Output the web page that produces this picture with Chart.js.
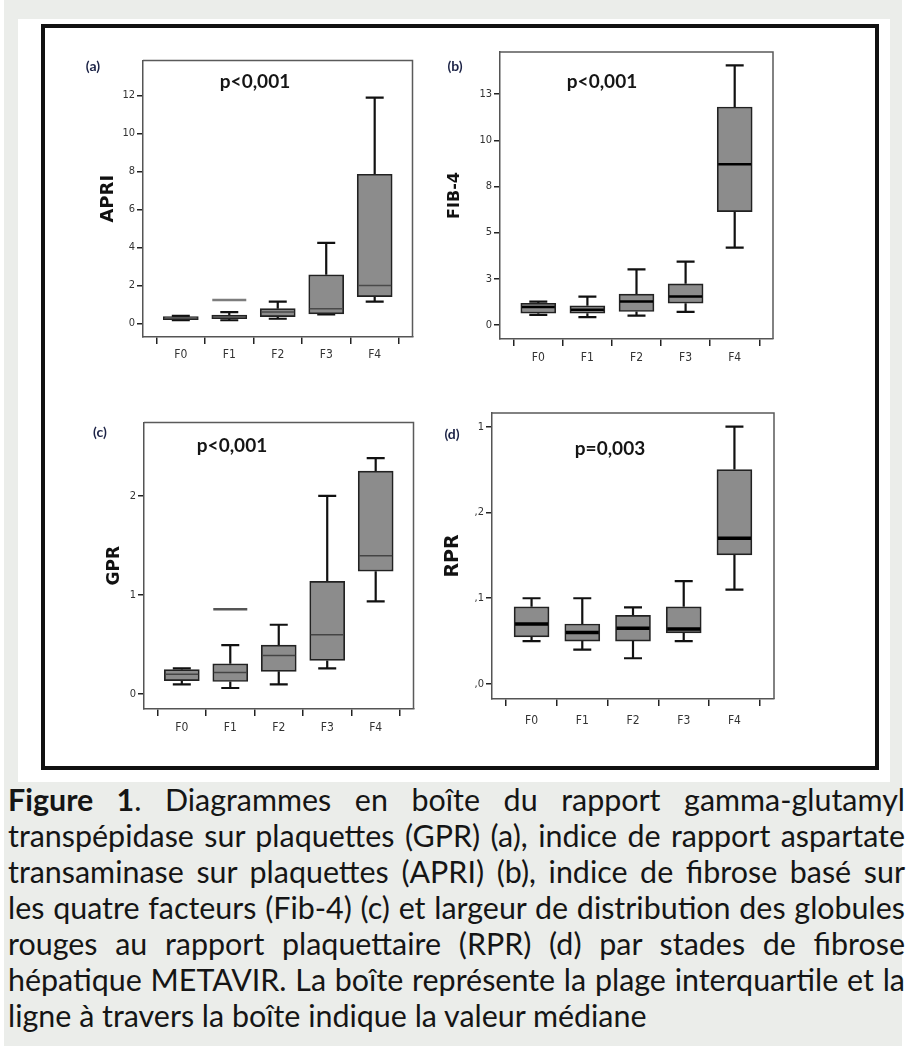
<!DOCTYPE html>
<html>
<head>
<meta charset="utf-8">
<script src="https://cdn.jsdelivr.net/npm/chart.js@4.4.1/dist/chart.umd.min.js"></script>
<style>
html,body{margin:0;padding:0;background:#fff;width:920px;height:1052px;overflow:hidden;position:relative;}
#bg{position:absolute;left:4px;top:0;width:898px;height:1046px;background:#ebedea;}
#white{position:absolute;left:18px;top:19px;width:872px;height:763px;background:#fff;}
#frame{position:absolute;left:41px;top:24px;width:830px;height:738px;border:4px solid #111;}
canvas{position:absolute;}
.lbl{position:absolute;transform:translate(-50%,-50%);font-family:Lato,"Open Sans",sans-serif;font-weight:bold;white-space:nowrap;}
.panel{font-size:14px;color:#1c2346;}
.pv{font-size:19px;color:#151515;}
#cap{position:absolute;left:8px;top:781px;width:897px;font-family:Lato,"Open Sans",sans-serif;color:#151515;}
#cap div{height:36px;line-height:36px;text-align:justify;text-align-last:justify;}
#cap div.last{text-align-last:left;}
</style>
</head>
<body>
<div id="bg"></div>
<div id="white"></div>
<div id="frame"></div>
<canvas id="cA"></canvas>
<canvas id="cB"></canvas>
<canvas id="cC"></canvas>
<canvas id="cD"></canvas>
<div class="lbl panel" style="left:93px;top:65px">(a)</div>
<div class="lbl panel" style="left:455px;top:65px">(b)</div>
<div class="lbl panel" style="left:100px;top:431px">(c)</div>
<div class="lbl panel" style="left:452px;top:433px">(d)</div>
<div class="lbl pv" style="left:255px;top:80px">p&lt;0,001</div>
<div class="lbl pv" style="left:602px;top:80px">p&lt;0,001</div>
<div class="lbl pv" style="left:232px;top:444px">p&lt;0,001</div>
<div class="lbl pv" style="left:610px;top:447px">p=0,003</div>
<div id="cap"></div>
<script>
// ---------------- DATA ----------------
const categories = ['F0', 'F1', 'F2', 'F3', 'F4'];

// (a) APRI
const apriMin = [0.17, 0.17, 0.25, 0.48, 1.15];
const apriQ1  = [0.20, 0.25, 0.36, 0.51, 1.41];
const apriMed = [0.27, 0.34, 0.60, 0.78, 2.00];
const apriQ3  = [0.36, 0.44, 0.78, 2.56, 7.85];
const apriMax = [0.40, 0.60, 1.15, 4.24, 11.88];
const apriOutliers = [{x: 1, y: 1.24}];
const apriTickLabels = ['0', '2', '4', '6', '8', '10', '12'];
const apriTickStep = 2;

// (b) FIB-4
const fibMin = [0.54, 0.42, 0.50, 0.70, 4.18];
const fibQ1  = [0.63, 0.63, 0.72, 1.17, 6.13];
const fibMed = [0.96, 0.81, 1.26, 1.53, 8.71];
const fibQ3  = [1.17, 1.03, 1.66, 2.22, 11.81];
const fibMax = [1.26, 1.53, 3.01, 3.43, 14.07];
const fibTickLabels = ['0', '3', '5', '8', '10', '13'];
const fibTickStep = 2.5;

// (c) GPR
const gprMin = [0.098, 0.062, 0.098, 0.26, 0.935];
const gprQ1  = [0.137, 0.127, 0.23, 0.34, 1.24];
const gprMed = [0.200, 0.218, 0.39, 0.60, 1.395];
const gprQ3  = [0.247, 0.306, 0.495, 1.137, 2.25];
const gprMax = [0.260, 0.495, 0.70, 2.00, 2.38];
const gprOutliers = [{x: 1, y: 0.855}];
const gprTickLabels = ['0', '1', '2'];
const gprTickStep = 1;

// (d) RPR
const rprMin = [0.050, 0.040, 0.030, 0.050, 0.110];
const rprQ1  = [0.055, 0.050, 0.050, 0.0595, 0.1505];
const rprMed = [0.070, 0.060, 0.065, 0.064, 0.170];
const rprQ3  = [0.090, 0.070, 0.080, 0.090, 0.250];
const rprMax = [0.100, 0.100, 0.0894, 0.120, 0.300];
const rprTickLabels = [',0', ',1', ',2', '1'];
const rprTickStep = 0.1;

const captionLines = [
  '<b>Figure 1</b>. Diagrammes en boîte du rapport gamma-glutamyl',
  'transpépidase sur plaquettes (GPR) (a), indice de rapport aspartate',
  'transaminase sur plaquettes (APRI) (b), indice de fibrose basé sur',
  'les quatre facteurs (Fib-4) (c) et largeur de distribution des globules',
  'rouges au rapport plaquettaire (RPR) (d) par stades de fibrose',
  'hépatique METAVIR. La boîte représente la plage interquartile et la',
  'ligne à travers la boîte indique la valeur médiane'
];

// ---------------- CAPTION ----------------
(function(){
  const meas = document.createElement('span');
  meas.style.cssText = 'position:absolute;visibility:hidden;white-space:nowrap;font-family:Lato,"Open Sans",sans-serif;font-size:100px;left:0;top:0';
  document.body.appendChild(meas);
  meas.innerHTML = captionLines[3];
  let fs = 888 / meas.offsetWidth * 100;
  captionLines.forEach(l => { meas.innerHTML = l; fs = Math.min(fs, 893 / meas.offsetWidth * 100); });
  meas.remove();
  const cap = document.getElementById('cap');
  cap.style.fontSize = fs.toFixed(2) + 'px';
  captionLines.forEach((l, i) => {
    const d = document.createElement('div');
    if (i === captionLines.length - 1) d.className = 'last';
    d.innerHTML = l;
    cap.appendChild(d);
  });
})();

// ---------------- CHARTS ----------------
const ML = 60, MT = 10, MR = 10, MB = 40;
const tickFont = '"Liberation Sans Narrow","DejaVu Sans Condensed","Liberation Sans",sans-serif';

function boxWhiskerPlugin(s) {
  return {
    id: 'boxWhisker',
    beforeDatasetsDraw(chart) {
      const {ctx, scales: {x, y}} = chart;
      ctx.save();
      ctx.strokeStyle = '#111';
      ctx.lineWidth = 2.2;
      ctx.lineCap = 'butt';
      categories.forEach((c, i) => {
        const px = x.getPixelForValue(i);
        const yMin = y.getPixelForValue(s.min[i]), yQ1 = y.getPixelForValue(s.q1[i]);
        const yQ3 = y.getPixelForValue(s.q3[i]), yMax = y.getPixelForValue(s.max[i]);
        ctx.beginPath();
        ctx.moveTo(px, yMin); ctx.lineTo(px, yQ1);
        ctx.moveTo(px, yQ3); ctx.lineTo(px, yMax);
        ctx.moveTo(px - 9, yMin); ctx.lineTo(px + 9, yMin);
        ctx.moveTo(px - 9, yMax); ctx.lineTo(px + 9, yMax);
        ctx.stroke();
      });
      ctx.restore();
    },
    afterDatasetsDraw(chart) {
      const {ctx, scales: {x, y}} = chart;
      const bars = chart.getDatasetMeta(0).data;
      ctx.save();
      ctx.strokeStyle = s.medColor;
      ctx.lineWidth = s.medWidth;
      categories.forEach((c, i) => {
        const px = x.getPixelForValue(i);
        const w = bars[i] ? bars[i].width : 35;
        const py = y.getPixelForValue(s.med[i]);
        ctx.beginPath();
        ctx.moveTo(px - w / 2 + 1, py); ctx.lineTo(px + w / 2 - 1, py);
        ctx.stroke();
      });
      ctx.restore();
    },
    afterDraw(chart) {
      const {ctx, chartArea: a} = chart;
      ctx.save();
      ctx.strokeStyle = '#5a5a5a';
      ctx.lineWidth = 1.5;
      ctx.beginPath();
      ctx.moveTo(a.left, a.top); ctx.lineTo(a.right, a.top); ctx.lineTo(a.right, a.bottom);
      ctx.stroke();
      ctx.restore();
    }
  };
}

function makePanel(id, p) {
  const cv = document.getElementById(id);
  const W = (p.box.r - p.box.l) + ML + MR;
  const H = (p.box.b - p.box.t) + MT + MB;
  cv.width = W; cv.height = H;
  cv.style.left = (p.box.l - ML) + 'px';
  cv.style.top = (p.box.t - MT) + 'px';
  cv.style.width = W + 'px'; cv.style.height = H + 'px';
  const titlePad = p.titleX - (p.box.l - ML) - p.titleSize * 0.6;
  const datasets = [{
    type: 'bar',
    data: categories.map((c, i) => ({x: i, y: [p.q1[i], p.q3[i]]})),
    backgroundColor: '#8c8c8c',
    borderColor: '#222',
    borderWidth: 1.7,
    borderSkipped: false,
    barThickness: 35
  }];
  if (p.outliers) {
    datasets.push({
      type: 'scatter',
      data: p.outliers,
      pointStyle: 'line',
      pointRadius: 17,
      borderColor: p.outColor,
      borderWidth: 2.5,
      showLine: false
    });
  }
  new Chart(cv, {
    type: 'bar',
    data: {datasets},
    options: {
      responsive: false,
      animation: false,
      devicePixelRatio: 1,
      layout: {padding: {left: 0, top: MT, right: MR, bottom: 0}},
      plugins: {legend: {display: false}, tooltip: {enabled: false}},
      scales: {
        x: {
          type: 'linear', min: -0.78, max: 4.78, offset: false,
          afterBuildTicks: s => { s.ticks = categories.map((c, i) => ({value: i})); },
          afterFit: s => { s.height = MB; },
          ticks: {callback: (v) => categories[v], autoSkip: false, maxRotation: 0, minRotation: 0,
                  font: {family: tickFont, size: 12}, color: '#333', padding: p.xPad},
          grid: {drawOnChartArea: false, tickLength: 7, color: '#222', lineWidth: 1.5},
          border: {color: '#555', width: 1.5}
        },
        y: {
          type: 'linear', min: p.yMin, max: p.yMax,
          afterBuildTicks: s => { s.ticks = p.tickLabels.map((t, i) => ({value: i * p.tickStep})); },
          afterFit: s => { s.width = ML; },
          ticks: {callback: (v, i) => p.tickLabels[i], font: {family: tickFont, size: 11}, color: '#333', padding: 2},
          grid: {drawOnChartArea: false, tickLength: 6, color: '#222', lineWidth: 1.5},
          border: {color: '#555', width: 1.5},
          title: {display: true, text: p.title, color: '#111',
                  font: {family: '"DejaVu Sans",sans-serif', weight: 'bold', size: p.titleSize},
                  padding: {top: titlePad, bottom: 0}}
        }
      }
    },
    plugins: [boxWhiskerPlugin(p)]
  });
}

makePanel('cA', {box: {l: 143, t: 51, r: 422, b: 337}, yMin: -0.71, yMax: 13.83,
  min: apriMin, q1: apriQ1, med: apriMed, q3: apriQ3, max: apriMax, outliers: apriOutliers, outColor: '#7d7d7d',
  tickLabels: apriTickLabels, tickStep: apriTickStep, title: 'APRI', titleSize: 18, titleX: 108,
  xPad: 4, medColor: '#4a4a4a', medWidth: 1.5});
makePanel('cB', {box: {l: 500, t: 52, r: 773, b: 339}, yMin: -0.77, yMax: 14.79,
  min: fibMin, q1: fibQ1, med: fibMed, q3: fibQ3, max: fibMax,
  tickLabels: fibTickLabels, tickStep: fibTickStep, title: 'FIB-4', titleSize: 16, titleX: 455,
  xPad: 5, medColor: '#000', medWidth: 2.5});
makePanel('cC', {box: {l: 144, t: 413, r: 423, b: 709}, yMin: -0.15, yMax: 2.74,
  min: gprMin, q1: gprQ1, med: gprMed, q3: gprQ3, max: gprMax, outliers: gprOutliers, outColor: '#555',
  tickLabels: gprTickLabels, tickStep: gprTickStep, title: 'GPR', titleSize: 17, titleX: 115,
  xPad: 5, medColor: '#444', medWidth: 1.5});
makePanel('cD', {box: {l: 492, t: 413, r: 774, b: 699}, yMin: -0.0175, yMax: 0.316,
  min: rprMin, q1: rprQ1, med: rprMed, q3: rprQ3, max: rprMax,
  tickLabels: rprTickLabels, tickStep: rprTickStep, title: 'RPR', titleSize: 19, titleX: 453,
  xPad: 8, medColor: '#000', medWidth: 3.5});
</script>
</body>
</html>
